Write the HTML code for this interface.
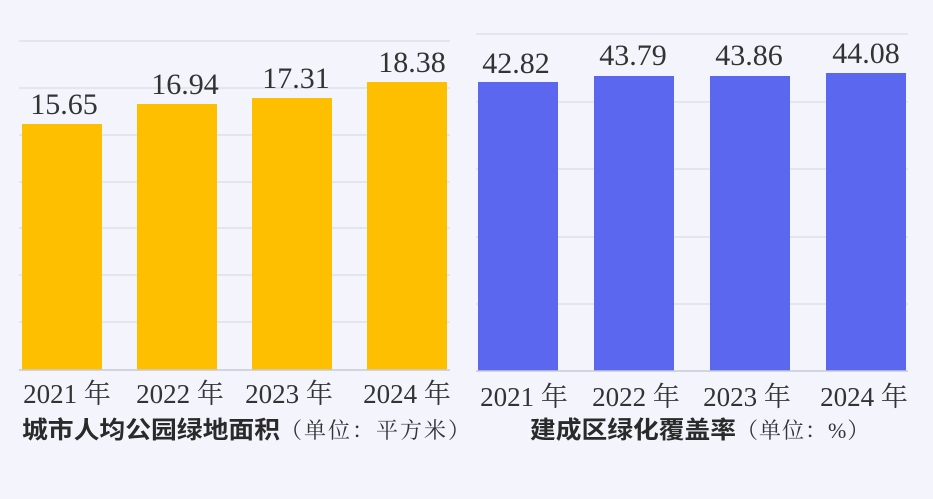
<!DOCTYPE html>
<html><head><meta charset="utf-8"><style>
html,body{margin:0;padding:0;background:#f4f5fc;}
svg{display:block}
.v{font-family:"Liberation Serif","Noto Serif CJK SC",serif;font-size:30px;fill:#333;}
.y{font-family:"Liberation Serif","Noto Serif CJK SC",serif;font-size:27px;fill:#333;}
.t{font-family:"Liberation Sans","Noto Sans CJK SC",sans-serif;font-size:24px;fill:#2a2a2a;font-weight:bold}
.u{font-family:"Liberation Serif","Noto Serif CJK SC",serif;font-size:22px;fill:#333;}
</style></head><body>
<svg width="933" height="499" viewBox="0 0 933 499">
<rect width="933" height="499" fill="#f4f5fc"/>
<g stroke="#dfe1ea" stroke-width="1.5">
<line x1="19" x2="450" y1="41" y2="41"/><line x1="19" x2="450" y1="88" y2="88"/><line x1="19" x2="450" y1="135" y2="135"/><line x1="19" x2="450" y1="182" y2="182"/><line x1="19" x2="450" y1="228" y2="228"/><line x1="19" x2="450" y1="275" y2="275"/><line x1="19" x2="450" y1="322" y2="322"/>
<line x1="476" x2="908" y1="34" y2="34"/><line x1="476" x2="908" y1="102" y2="102"/><line x1="476" x2="908" y1="169" y2="169"/><line x1="476" x2="908" y1="237" y2="237"/><line x1="476" x2="908" y1="304" y2="304"/>
</g>
<g fill="#fdbf00">
<rect x="22" y="124" width="80" height="246"/><rect x="137" y="104" width="80" height="266"/><rect x="252" y="98" width="80" height="272"/><rect x="367" y="82" width="80" height="288"/>
</g>
<g fill="#5b67ee">
<rect x="478" y="82" width="80" height="289"/><rect x="594" y="76" width="80" height="295"/><rect x="710" y="76" width="80" height="295"/><rect x="826" y="73" width="80" height="298"/>
</g>
<line x1="19" x2="450" y1="370" y2="370" stroke="#c8cad3" stroke-width="1.5"/>
<line x1="476" x2="908" y1="371" y2="371" stroke="#c8cad3" stroke-width="1.5"/>
<g class="v" text-anchor="middle">
<text x="64" y="114">15.65</text><text x="185" y="94">16.94</text><text x="296" y="88">17.31</text><text x="412" y="72">18.38</text>
<text x="516" y="73">42.82</text><text x="633" y="65">43.79</text><text x="749" y="65">43.86</text><text x="866" y="63">44.08</text>
</g>
<g class="y" text-anchor="middle">
<text x="67" y="403">2021 年</text><text x="180" y="403">2022 年</text><text x="289" y="403">2023 年</text><text x="407" y="403">2024 年</text>
<text x="524" y="406">2021 年</text><text x="636" y="406">2022 年</text><text x="747" y="406">2023 年</text><text x="864" y="406">2024 年</text>
</g>
<text x="22" y="438" class="t" textLength="258" lengthAdjust="spacingAndGlyphs">城市人均公园绿地面积</text>
<text x="280" y="438" class="u" letter-spacing="2">（单位：平方米）</text>
<text x="530" y="438" class="t" textLength="206" lengthAdjust="spacingAndGlyphs">建成区绿化覆盖率</text>
<text x="736" y="438" class="u" letter-spacing="1">（单位：%）</text>
</svg>
</body></html>
